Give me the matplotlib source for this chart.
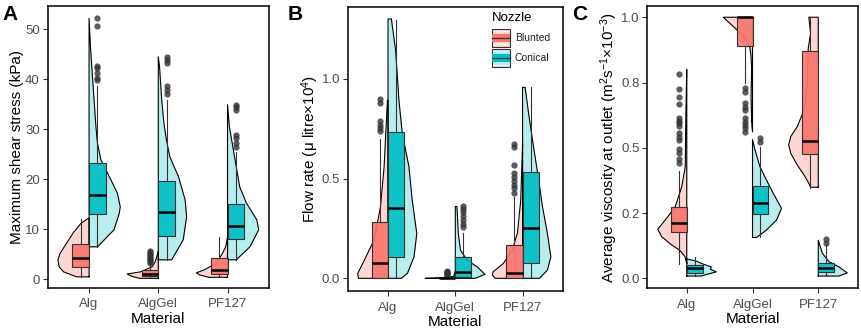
import matplotlib
matplotlib.use("Agg")
import matplotlib.pyplot as plt
from matplotlib.patches import Rectangle
from matplotlib.colors import to_rgba

plt.rcParams['font.family'] = ['Liberation Sans', 'DejaVu Sans']
plt.rcParams['mathtext.default'] = 'regular'

materials = ['Alg', 'AlgGel', 'PF127']
nozzles = ['Blunted', 'Conical']

# box stats per material: [whisker low, q1, median, q3, whisker high]
shear_blunted_box = [[0.5, 2.5, 4.3, 7.0, 12.0], [0.2, 0.6, 1.1, 1.9, 3.0], [0.4, 1.06, 1.9, 4.2, 8.4]]
shear_conical_box = [[6.5, 13.1, 16.8, 23.3, 38.6], [3.9, 8.7, 13.5, 19.7, 35.9], [3.9, 8.1, 10.7, 15.1, 25.5]]
shear_blunted_out = [[], [3.3, 3.6, 3.9, 4.2, 4.5, 4.8, 5.1, 5.4, 5.7], []]
shear_conical_out = [[52.2, 50.7, 42.7, 42.2, 41.3, 40.2, 39.8],
                     [44.5, 43.9, 43.3, 38.6, 37.8, 37.0],
                     [34.9, 34.4, 33.8, 28.9, 28.2, 27.2, 26.5]]
# half-violin outlines: value levels and relative half-widths
shear_blunted_vy = [[0.5, 0.9, 1.5, 2.5, 3.9, 5.2, 7.9, 9.2, 11.2, 12.2],
                    [0.2, 0.6, 1.06, 1.5, 2.5, 3.5, 4.5, 5.7],
                    [0.4, 0.86, 1.3, 1.9, 3.2, 5.2, 6.5, 8.4]]
shear_blunted_vw = [[0.4, 0.57, 0.82, 0.96, 1.0, 0.93, 0.65, 0.52, 0.26, 0.02],
                    [0.6, 0.85, 1.0, 0.56, 0.2, 0.1, 0.05, 0.0],
                    [0.6, 0.89, 1.0, 0.74, 0.37, 0.16, 0.06, 0.0]]
shear_conical_vy = [[6.5, 9.9, 13.2, 14.5, 17.2, 19.9, 23.9, 27.2, 30.5, 35.9, 45.9, 52.2],
                    [3.9, 7.9, 12.5, 15.9, 20.5, 24.5, 27.9, 31.2, 35.9, 42.5, 44.5],
                    [3.9, 6.5, 9.9, 11.9, 15.2, 18.5, 22.5, 26.5, 30.5, 34.9]]
shear_conical_vw = [[0.27, 0.8, 0.97, 1.0, 0.91, 0.7, 0.38, 0.27, 0.22, 0.16, 0.05, 0.0],
                    [0.43, 0.8, 0.91, 0.86, 0.65, 0.37, 0.26, 0.18, 0.11, 0.04, 0.0],
                    [0.28, 0.72, 1.0, 0.94, 0.61, 0.39, 0.28, 0.17, 0.06, 0.0]]

flow_blunted_box = [[0.0, 0.0, 0.075, 0.28, 0.70], [0.0, 0.0, 0.0, 0.002, 0.004], [0.0, 0.0, 0.025, 0.167, 0.41]]
flow_conical_box = [[0.008, 0.108, 0.354, 0.735, 1.295], [0.0, 0.005, 0.033, 0.105, 0.225], [0.005, 0.075, 0.254, 0.534, 0.957]]
flow_blunted_out = [[0.90, 0.88, 0.79, 0.77, 0.755, 0.74],
                    [0.035, 0.03, 0.025, 0.02, 0.015, 0.01],
                    [0.675, 0.66, 0.57, 0.53, 0.51, 0.49, 0.47, 0.455, 0.43]]
flow_conical_out = [[], [0.36, 0.345, 0.33, 0.31, 0.29, 0.27, 0.255], []]
flow_blunted_vy = [[0.0, 0.025, 0.092, 0.192, 0.358, 0.558, 0.893],
                   [0.0, 0.003, 0.01, 0.035],
                   [0.0, 0.017, 0.033, 0.075, 0.142, 0.226, 0.392, 0.68]]
flow_blunted_vw = [[0.98, 1.0, 0.78, 0.46, 0.25, 0.13, 0.02],
                   [1.0, 0.3, 0.05, 0.0],
                   [0.9, 1.0, 0.97, 0.63, 0.34, 0.17, 0.06, 0.0]]
flow_conical_vy = [[0.0, 0.025, 0.108, 0.225, 0.39, 0.56, 0.727, 0.893, 1.144, 1.30],
                   [0.0, 0.02, 0.058, 0.091, 0.142, 0.225, 0.36],
                   [0.0, 0.041, 0.108, 0.225, 0.358, 0.525, 0.692, 0.826, 0.957]]
flow_conical_vw = [[0.44, 0.64, 0.86, 0.95, 0.8, 0.69, 0.47, 0.36, 0.25, 0.11],
                   [0.66, 0.98, 0.72, 0.39, 0.17, 0.1, 0.055],
                   [0.56, 0.82, 0.935, 0.82, 0.66, 0.5, 0.33, 0.2, 0.085]]

visc_blunted_box = [[0.054, 0.176, 0.213, 0.272, 0.412], [0.747, 0.891, 1.0, 1.0, 1.0], [0.347, 0.475, 0.526, 0.872, 1.0]]
visc_conical_box = [[0.009, 0.022, 0.038, 0.051, 0.083], [0.157, 0.245, 0.287, 0.355, 0.504], [0.009, 0.025, 0.041, 0.057, 0.128]]
visc_blunted_out = [[0.783, 0.724, 0.696, 0.668, 0.613, 0.604, 0.594, 0.584, 0.556, 0.543, 0.53, 0.494, 0.481, 0.456, 0.441],
                    [0.728, 0.715, 0.67, 0.657, 0.645, 0.613, 0.6, 0.587, 0.575, 0.562],
                    []]
visc_conical_out = [[], [0.536, 0.523], [0.149, 0.136]]
visc_blunted_vy = [[0.057, 0.083, 0.108, 0.128, 0.159, 0.188, 0.223, 0.274, 0.351, 0.428, 0.626, 0.8],
                   [0.562, 0.6, 0.7, 0.8, 0.85, 0.887, 0.92, 0.951, 0.977, 1.0],
                   [0.349, 0.364, 0.396, 0.434, 0.479, 0.511, 0.543, 0.581, 0.645, 0.747, 0.798, 0.88, 0.939, 1.0]]
visc_blunted_vw = [[0.0, 0.06, 0.24, 0.51, 0.84, 0.98, 0.73, 0.39, 0.17, 0.05, 0.03, 0.0],
                   [0.0, 0.03, 0.05, 0.03, 0.05, 0.09, 0.26, 0.52, 0.77, 0.99],
                   [0.26, 0.32, 0.48, 0.71, 0.93, 1.0, 0.93, 0.71, 0.48, 0.37, 0.36, 0.34, 0.26, 0.32]]
visc_conical_vy = [[0.009, 0.013, 0.025, 0.035, 0.044, 0.057, 0.065, 0.075],
                   [0.157, 0.185, 0.223, 0.268, 0.326, 0.377, 0.428, 0.494, 0.532],
                   [0.009, 0.021, 0.044, 0.064, 0.096, 0.146]]
visc_conical_vw = [[0.5, 0.6, 1.0, 0.8, 0.83, 0.5, 0.35, 0.0],
                   [0.14, 0.47, 0.81, 0.98, 0.7, 0.47, 0.25, 0.08, 0.0],
                   [0.7, 0.98, 0.7, 0.36, 0.14, 0.0]]

visc_ticks = [0.0, 0.25, 0.5, 0.75, 1.0]
visc_ticklabels = ['0.0', '0.2', '0.5', '0.8', '1.0']

red = '#F8766D'
teal = '#00BFC4'
red_light = '#FDD6D3'
teal_light = '#B8EDEE'

W = 0.45      # max half-violin width
BW = 0.24     # box width


def flat_violin(ax, c, ys, ws, side, fill):
    xs = [c + side * w * W for w in ws]
    ax.fill_betweenx(ys, c, xs, color=fill, lw=0, zorder=1)
    px = [c] + xs + [c, c]
    py = [ys[0]] + ys + [ys[-1], ys[0]]
    ax.plot(px, py, color='black', lw=0.8, zorder=1.5)


def box(ax, c, s, fl, side, color):
    st = dict(whislo=s[0], q1=s[1], med=s[2], q3=s[3], whishi=s[4], fliers=fl)
    ax.bxp([st], positions=[c + side * BW / 2], widths=BW, patch_artist=True,
           showcaps=False, manage_ticks=False, zorder=2,
           boxprops=dict(facecolor=to_rgba(color, 0.92), edgecolor='#333333', linewidth=0.8),
           medianprops=dict(color='black', linewidth=1.8),
           whiskerprops=dict(color='#333333', linewidth=0.8),
           flierprops=dict(marker='o', markerfacecolor='#333333', markeredgecolor='none',
                           markersize=4.5, alpha=0.8))


def panel(rect, bbox, bout, bvy, bvw, cbox, cout, cvy, cvw, ylim, ylabel, letter, lx):
    ax = fig.add_axes(rect)
    for i in range(len(materials)):
        c = i + 1
        flat_violin(ax, c, bvy[i], bvw[i], -1, red_light)
        flat_violin(ax, c, cvy[i], cvw[i], 1, teal_light)
        box(ax, c, bbox[i], bout[i], -1, red)
        box(ax, c, cbox[i], cout[i], 1, teal)
    ax.set_xlim(0.4, 3.6)
    ax.set_ylim(*ylim)
    ax.set_xticks(range(1, len(materials) + 1))
    ax.set_xticklabels(materials)
    ax.tick_params(colors='#333333', labelcolor='#4D4D4D', labelsize=9.5, length=3.5, width=0.8, pad=2)
    ax.tick_params(axis='x', pad=4)
    for sp in ax.spines.values():
        sp.set_linewidth(1.1)
        sp.set_color('black')
    ax.set_xlabel('Material', fontsize=11, labelpad=1)
    ax.set_ylabel(ylabel, fontsize=11, labelpad=0.5)
    fig.text(lx, 0.985, letter, fontsize=15, fontweight='bold', va='top', ha='left')
    return ax


fig = plt.figure(figsize=(8.61, 3.32), dpi=100)

axA = panel([0.0552, 0.1325, 0.2573, 0.848],
            shear_blunted_box, shear_blunted_out, shear_blunted_vy, shear_blunted_vw,
            shear_conical_box, shear_conical_out, shear_conical_vy, shear_conical_vw,
            (-1.74, 54.56), 'Maximum shear stress (kPa)', 'A', 0.003)
axA.set_yticks([0, 10, 20, 30, 40, 50])

axB = panel([0.4038, 0.122, 0.25, 0.857],
            flow_blunted_box, flow_blunted_out, flow_blunted_vy, flow_blunted_vw,
            flow_conical_box, flow_conical_out, flow_conical_vy, flow_conical_vw,
            (-0.066, 1.36), 'Flow rate (μ litre×10$^{4}$)', 'B', 0.334)
axB.set_yticks([0.0, 0.5, 1.0])
axB.set_yticklabels(['0.0', '0.5', '1.0'])

axC = panel([0.7518, 0.1316, 0.2444, 0.8503],
            visc_blunted_box, visc_blunted_out, visc_blunted_vy, visc_blunted_vw,
            visc_conical_box, visc_conical_out, visc_conical_vy, visc_conical_vw,
            (-0.038, 1.043), 'Average viscosity at outlet (m$^{2}$s$^{-1}$×10$^{-3}$)', 'C', 0.665)
axC.set_yticks(visc_ticks)
axC.set_yticklabels(visc_ticklabels)

# legend for nozzle, drawn inside panel B
axB.text(0.669, 0.96, 'Nozzle', transform=axB.transAxes, fontsize=9.5, va='center', ha='left')
kw, kh = 0.085, 0.061
for j, (name, col, light) in enumerate(zip(nozzles, [red, teal], [red_light, teal_light])):
    x0, y0 = 0.669, 0.861 - j * 0.071
    axB.add_patch(Rectangle((x0, y0), kw, kh, transform=axB.transAxes, facecolor=light,
                            edgecolor='#333333', lw=0.8, zorder=5))
    axB.add_patch(Rectangle((x0, y0 + kh * 0.25), kw, kh * 0.5, transform=axB.transAxes,
                            facecolor=col, edgecolor='none', zorder=6))
    axB.plot([x0, x0 + kw], [y0 + kh * 0.5] * 2, transform=axB.transAxes, color='#333333', lw=0.9, zorder=7)
    for yy in (0.12, 0.88):
        axB.plot([x0 + 0.008, x0 + kw - 0.008], [y0 + kh * yy] * 2, transform=axB.transAxes,
                 color='white', lw=0.8, ls=(0, (2, 1)), zorder=7)
    axB.text(x0 + kw + 0.022, y0 + kh / 2, name, transform=axB.transAxes, fontsize=7.5,
             va='center', ha='left', color='#222222')

fig.savefig('out.png', dpi=100)
